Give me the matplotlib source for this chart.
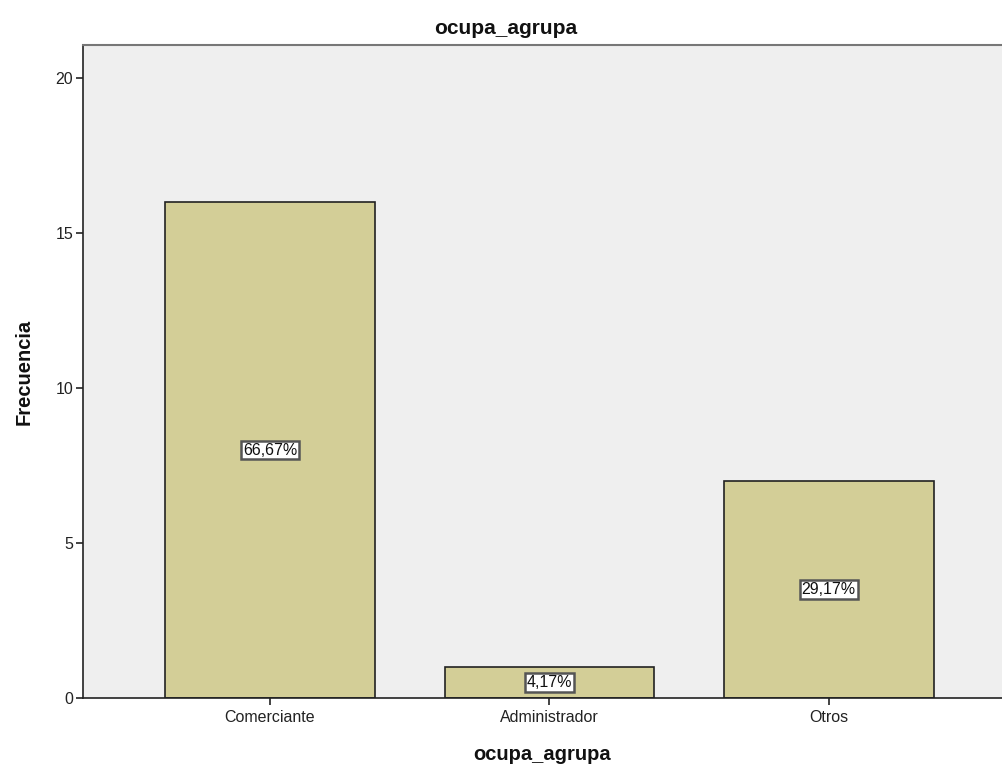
import numpy as np
import matplotlib
matplotlib.use('Agg')
import matplotlib.pyplot as plt

plt.rcParams['font.family'] = ['Liberation Sans', 'DejaVu Sans']

categories = ['Comerciante', 'Administrador', 'Otros']
counts = [16, 1, 7]
pct_labels = ['66,67%', '4,17%', '29,17%']

fig = plt.figure(figsize=(10.02, 7.72), dpi=100)
ax = fig.add_axes([0.0828, 0.0959, 0.9172, 0.8458])
ax.set_facecolor('#EFEFEF')

x = np.arange(len(categories))
ax.bar(x, counts, width=0.75, color='#D3CE97', edgecolor='#222222', linewidth=1.2, zorder=2)

for xi, c, lab in zip(x, counts, pct_labels):
    ax.text(xi, c / 2, lab, ha='center', va='center', fontsize=11.5, color='#111111', zorder=3,
            bbox=dict(boxstyle='square,pad=0.12', facecolor='white', edgecolor='#555555', linewidth=1.8))

ax.set_xlim(-0.669, 2.62)
ax.set_ylim(0, 21.07)
ax.set_yticks([0, 5, 10, 15, 20])
ax.set_xticks(x)
ax.set_xticklabels(categories)
ax.tick_params(axis='both', labelsize=11.5, length=5, width=1.2, color='#222222', labelcolor='#222222')
ax.tick_params(axis='x', pad=4)
ax.tick_params(axis='y', pad=2)

ax.spines['right'].set_visible(False)
ax.spines['left'].set_color('#222222')
ax.spines['bottom'].set_color('#222222')
ax.spines['left'].set_linewidth(1.2)
ax.spines['bottom'].set_linewidth(1.2)
ax.spines['top'].set_color('#777777')
ax.spines['top'].set_linewidth(1.5)

fig.text(0.505, 0.963, 'ocupa_agrupa', ha='center', va='center', fontsize=15, fontweight='bold', color='#111111')
ax.set_xlabel('ocupa_agrupa', fontsize=14.5, fontweight='bold', labelpad=14, color='#111111')
ax.set_ylabel('Frecuencia', fontsize=14.5, fontweight='bold', labelpad=16, color='#111111')

fig.savefig('out.png', dpi=100)
